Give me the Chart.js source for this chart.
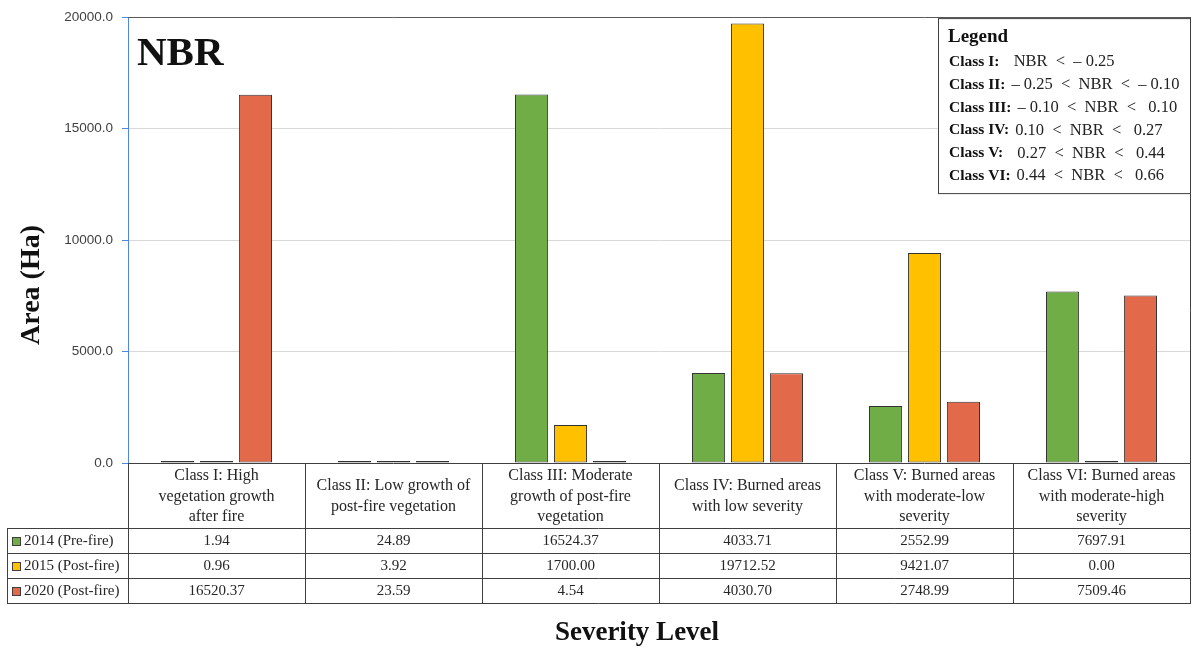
<!DOCTYPE html>
<html>
<head>
<meta charset="utf-8">
<script src="https://cdn.jsdelivr.net/npm/chart.js@4/dist/chart.umd.min.js"></script>
<style>
  html, body { margin: 0; padding: 0; background: #fff; }
  #wrap { width: 1192px; height: 653px; position: relative; }
</style>
</head>
<body>
<div id="wrap"><canvas id="c" width="1192" height="653"></canvas></div>
<script>
// Severity classes (label lines as shown in the table header)
const categories = [
  ['Class I: High', 'vegetation growth', 'after fire'],
  ['Class II: Low growth of', 'post-fire vegetation'],
  ['Class III: Moderate', 'growth of post-fire', 'vegetation'],
  ['Class IV: Burned areas', 'with low severity'],
  ['Class V: Burned areas', 'with moderate-low', 'severity'],
  ['Class VI: Burned areas', 'with moderate-high', 'severity']
];
const seriesNames = ['2014 (Pre-fire)', '2015 (Post-fire)', '2020 (Post-fire)'];
const values2014 = [1.94, 24.89, 16524.37, 4033.71, 2552.99, 7697.91];
const values2015 = [0.96, 3.92, 1700.00, 19712.52, 9421.07, 0.00];
const values2020 = [16520.37, 23.59, 4.54, 4030.70, 2748.99, 7509.46];
const seriesColors = ['#70AD47', '#FFC000', '#E3694B'];
const yTickStep = 5000;
const yMax = 20000;
const legendClasses = ['Class I:', 'Class II:', 'Class III:', 'Class IV:', 'Class V:', 'Class VI:'];
const legendRanges = [
  '  NBR  <  \u2013 0.25',
  '\u2013 0.25  <  NBR  <  \u2013 0.10',
  '\u2013 0.10  <  NBR  <   0.10',
  '0.10  <  NBR  <   0.27',
  '  0.27  <  NBR  <   0.44',
  '0.44  <  NBR  <   0.66'
];
const chartTitle = 'NBR';
const yTitle = 'Area (Ha)';
const xTitle = 'Severity Level';

const SERIF = '"Liberation Serif", "DejaVu Serif", serif';
const LINE = '#3f3f3f';
const TEXT = '#262626';

const seriesValues = [values2014, values2015, values2020];

// Data table, frame, legend box and axis titles drawn around the plot
const decorations = {
  id: 'decorations',
  afterDraw(chart) {
    const { ctx, chartArea: a, scales: { x } } = chart;
    const tableTop = a.bottom;
    const headerBottom = tableTop + 65;
    const rowH = 25;
    const tableBottom = headerBottom + rowH * seriesValues.length;
    const keyLeft = 7;
    const colW = (a.right - a.left) / categories.length;

    ctx.save();
    ctx.strokeStyle = LINE;
    ctx.lineWidth = 1;
    const hline = (x1, x2, y) => { ctx.beginPath(); ctx.moveTo(x1, Math.round(y) + 0.5); ctx.lineTo(x2, Math.round(y) + 0.5); ctx.stroke(); };
    const vline = (xx, y1, y2) => { ctx.beginPath(); ctx.moveTo(Math.round(xx) + 0.5, y1); ctx.lineTo(Math.round(xx) + 0.5, y2); ctx.stroke(); };

    // plot frame (top + right)
    ctx.strokeStyle = '#5a5a5a';
    hline(a.left, a.right, a.top);
    ctx.strokeStyle = LINE;
    vline(a.right, a.top, tableBottom + 1);

    // table grid
    hline(a.left, a.right, tableTop);
    for (let r = 0; r <= seriesValues.length; r++) hline(keyLeft, a.right, headerBottom + r * rowH);
    vline(keyLeft, headerBottom, tableBottom + 1);
    for (let i = 0; i < categories.length; i++) vline(a.left + i * colW, tableTop, tableBottom + 1);

    // header labels
    ctx.fillStyle = TEXT;
    ctx.font = '16px ' + SERIF;
    ctx.textAlign = 'center';
    ctx.textBaseline = 'middle';
    const lh = 20.5;
    categories.forEach((lines, i) => {
      const cx = x.getPixelForValue(i);
      const cy = (tableTop + headerBottom) / 2;
      lines.forEach((t, k) => ctx.fillText(t, cx, cy + (k - (lines.length - 1) / 2) * lh + 1));
    });

    // series rows
    ctx.font = '15px ' + SERIF;
    seriesValues.forEach((vals, r) => {
      const cy = headerBottom + r * rowH + rowH / 2 + 1;
      vals.forEach((v, i) => ctx.fillText(v.toFixed(2), x.getPixelForValue(i), cy));
      ctx.fillStyle = seriesColors[r];
      ctx.fillRect(12, Math.round(cy - 5), 9, 9);
      ctx.strokeStyle = LINE;
      ctx.strokeRect(12.5, Math.round(cy - 5) + 0.5, 8, 8);
      ctx.fillStyle = TEXT;
      ctx.textAlign = 'left';
      ctx.fillText(seriesNames[r], 24, cy);
      ctx.textAlign = 'center';
    });

    // legend box
    const bx = 938, by = a.top + 1, bw = a.right - bx, bh = 175;
    ctx.fillStyle = '#fff';
    ctx.fillRect(bx, by, bw, bh);
    ctx.strokeStyle = LINE;
    ctx.strokeRect(bx + 0.5, by + 0.5, bw, bh);
    ctx.fillStyle = '#111';
    ctx.textAlign = 'left';
    ctx.font = 'bold 19px ' + SERIF;
    ctx.fillText('Legend', 948, 37);
    legendClasses.forEach((c, i) => {
      const yy = 62 + i * 22.8;
      ctx.font = 'bold 15.5px ' + SERIF;
      ctx.fillStyle = '#111';
      ctx.fillText(c, 949, yy);
      const w = ctx.measureText(c).width;
      ctx.font = '16.5px ' + SERIF;
      ctx.fillStyle = '#222';
      ctx.fillText(legendRanges[i], 949 + w + 6, yy);
    });

    // chart title inside plot
    ctx.fillStyle = '#111';
    ctx.font = 'bold 41px ' + SERIF;
    ctx.fillText(chartTitle, 137, 54);

    // axis titles
    ctx.font = 'bold 27px ' + SERIF;
    ctx.textAlign = 'center';
    ctx.fillText(xTitle, 637, 633);
    ctx.font = 'bold 28px ' + SERIF;
    ctx.translate(32, 285);
    ctx.rotate(-Math.PI / 2);
    ctx.fillText(yTitle, 0, 0);
    ctx.restore();
  }
};

new Chart(document.getElementById('c'), {
  type: 'bar',
  data: {
    labels: categories,
    datasets: seriesValues.map((vals, i) => ({
      label: seriesNames[i],
      data: vals,
      backgroundColor: seriesColors[i],
      borderColor: '#333',
      borderWidth: 1,
      borderSkipped: false,
      minBarLength: 2,
      barPercentage: 0.85,
      categoryPercentage: 0.66
    }))
  },
  options: {
    responsive: false,
    animation: false,
    devicePixelRatio: 1,
    layout: { padding: { left: 0, top: 16, right: 2, bottom: 0 } },
    plugins: { legend: { display: false }, tooltip: { enabled: false }, title: { display: false } },
    scales: {
      x: {
        ticks: { display: false },
        grid: { display: false },
        border: { display: false },
        afterFit(scale) { scale.height = 190; }
      },
      y: {
        min: 0,
        max: yMax,
        ticks: {
          stepSize: yTickStep,
          padding: 9,
          color: '#404040',
          font: { family: '"Liberation Sans", sans-serif', size: 13.5 },
          callback: v => Number(v).toFixed(1)
        },
        grid: {
          color: c => (c.tick && (c.tick.value === 0 || c.tick.value === yMax)) ? 'rgba(0,0,0,0)' : '#d9d9d9',
          tickColor: '#4f86e0',
          tickLength: 6
        },
        border: { color: '#4f86e0' },
        afterFit(scale) { scale.width = 128; }
      }
    }
  },
  plugins: [decorations]
});
</script>
</body>
</html>
